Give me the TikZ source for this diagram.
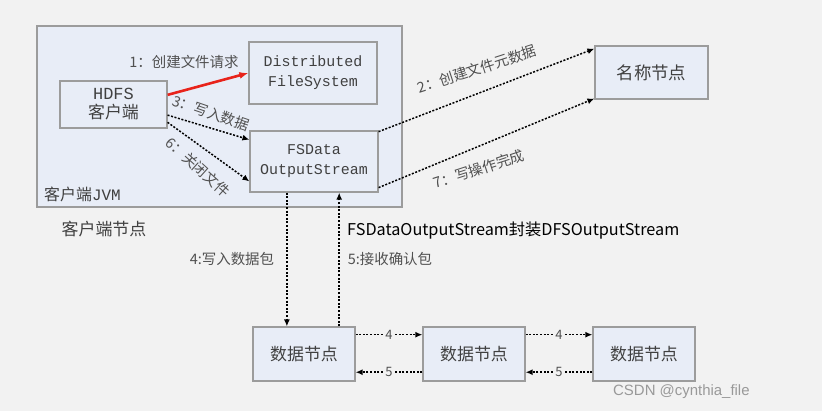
\documentclass[tikz,border=0pt]{standalone}
\usepackage{fontspec}
\setmainfont{Noto Sans CJK SC}
\newfontfamily\cjk{Noto Sans CJK SC}
\newfontfamily\mono{Liberation Mono}
\newfontfamily\wm{Liberation Sans}
\usetikzlibrary{arrows.meta,calc}
\definecolor{bgc}{HTML}{F2F2F2}
\definecolor{boxfill}{HTML}{E8EDF7}
\definecolor{boxline}{HTML}{9C9C9C}
\definecolor{txt}{HTML}{404040}
\definecolor{lbl}{HTML}{505050}
\definecolor{redarr}{HTML}{E8231B}
\tikzset{
  box/.style={draw=boxline, fill=boxfill, line width=1.2bp, inner sep=0pt, align=center, text=txt},
  dotarrow/.style={line width=1.5bp, dash pattern=on 2bp off 1.6bp, -{Latex[length=7bp,width=6bp]}},
  lab/.style={text=lbl, inner sep=0pt, font=\fontsize{14.5}{16}\selectfont},
  numlab/.style={text=lbl, fill=bgc, inner sep=1bp, font=\fontsize{13}{14}\selectfont}
}
\begin{document}
\begin{tikzpicture}[x=1bp,y=-1bp]
\fill[bgc] (0,0) rectangle (822,411);
\useasboundingbox (0,0) rectangle (822,411);
% client JVM container
\node[box, minimum width=365bp, minimum height=181bp] (jvm) at (219.5,116.5) {};
\node[anchor=west, text=txt, inner sep=0pt, font=\fontsize{16}{18}\selectfont] (jvmlab) at (44,194) {客户端{\mono JVM}};
\node[text=txt, inner sep=0pt, font=\fontsize{17}{19}\selectfont] (clientnode) at (104,229) {客户端节点};
% boxes
\node[box, minimum width=107bp, minimum height=47bp, font=\fontsize{17}{19}\selectfont] (hdfs) at (113.5,104.5) {{\mono HDFS}\\客户端};
\node[box, minimum width=128bp, minimum height=62bp, font=\fontsize{15}{20}\selectfont\mono] (dfs) at (313,73) {Distributed\\FileSystem};
\node[box, minimum width=128bp, minimum height=61bp, font=\fontsize{15}{20}\selectfont\mono] (fsd) at (314,161.5) {FSData\\OutputStream};
\node[box, minimum width=113bp, minimum height=53bp, font=\fontsize{17.5}{19}\selectfont] (nn) at (651.5,72.5) {名称节点};
\node[box, minimum width=102bp, minimum height=54bp, font=\fontsize{17}{18}\selectfont] (dn1) at (304,354) {数据节点};
\node[box, minimum width=102bp, minimum height=54bp, font=\fontsize{17}{18}\selectfont] (dn2) at (474,354) {数据节点};
\node[box, minimum width=102bp, minimum height=54bp, font=\fontsize{17}{18}\selectfont] (dn3) at (644,354) {数据节点};
% arrow 1 (red)
\draw[redarr, line width=2.6bp, -{Latex[length=9bp,width=7bp]}] ($(hdfs.north east)!0.3!(hdfs.south east)$) -- (dfs.west);
\node[lab] (l1) at (184,62) {1：创建文件请求};
% arrow 3 and 6
\draw[dotarrow] ($(hdfs.north east)!0.72!(hdfs.south east)$) -- ($(fsd.north west)!0.15!(fsd.south west)$);
\node[lab, rotate=-19] (l3) at (211,113) {3：写入数据};
\draw[dotarrow] ($(hdfs.north east)!0.87!(hdfs.south east)$) -- ($(fsd.north west)!0.82!(fsd.south west)$);
\node[lab, rotate=-42] (l6) at (198,167) {6：关闭文件};
% arrows 2 and 7
\draw[dotarrow] ($(fsd.north east)!0.02!(fsd.south east)$) -- ($(nn.north west)!0.06!(nn.south west)$);
\node[lab, rotate=18] (l2) at (477,69) {2：创建文件元数据};
\draw[dotarrow] ($(fsd.north east)!0.92!(fsd.south east)$) -- ($(nn.north west)!0.98!(nn.south west)$);
\node[lab, rotate=18] (l7) at (479,169) {7：写操作完成};
% vertical arrows
\coordinate (v4) at ($(fsd.south west)!0.29!(fsd.south east)$);
\draw[dotarrow] (v4) -- (v4 |- dn1.north);
\coordinate (v5) at ($(fsd.south west)!0.695!(fsd.south east)$);
\draw[dotarrow] (v5 |- dn1.north) -- (v5);
\node[anchor=west, inner sep=0pt, text=black, font=\fontsize{16.3}{18}\selectfont] (wrap) at (347,231) {FSDataOutputStream封装DFSOutputStream};
\node[lab] (l4) at (232,259) {4:写入数据包};
\node[lab] (l5) at (390,259) {5:接收确认包};
% data node chain
\foreach \a/\b in {dn1/dn2, dn2/dn3}{
  \draw[dotarrow] ($(\a.north east)!0.15!(\a.south east)$) -- node[numlab]{4} ($(\b.north west)!0.15!(\b.south west)$);
  \draw[dotarrow] ($(\b.north west)!0.83!(\b.south west)$) -- node[numlab]{5} ($(\a.north east)!0.83!(\a.south east)$);
}
% watermark
\node[anchor=west, inner sep=0pt, text=gray!80, font=\wm\fontsize{15}{16}\selectfont] (wmk) at (613,392) {CSDN @cynthia\_file};
\end{tikzpicture}
\end{document}
